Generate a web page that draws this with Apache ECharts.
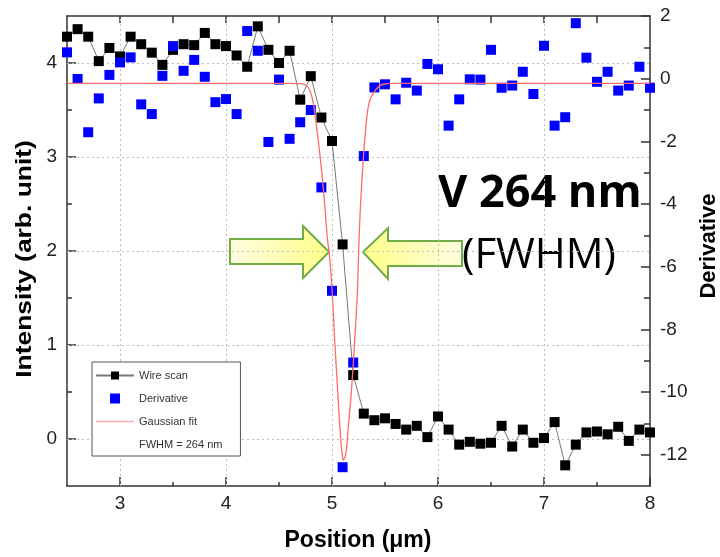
<!DOCTYPE html>
<html><head><meta charset="utf-8">
<script src="https://cdn.jsdelivr.net/npm/echarts@6/dist/echarts.min.js"></script>
<style>html,body{margin:0;padding:0;background:#fff}#c{width:720px;height:557px}</style>
</head><body><div id="c"></div>
<script>
// ---- data ----
const positions = [2.5,2.6,2.7,2.8,2.9,3.0,3.1,3.2,3.3,3.4,3.5,3.6,3.7,3.8,3.9,4.0,4.1,4.2,4.3,4.4,4.5,4.6,4.7,4.8,4.9,5.0,5.1,5.2,5.3,5.4,5.5,5.6,5.7,5.8,5.9,6.0,6.1,6.2,6.3,6.4,6.5,6.6,6.7,6.8,6.9,7.0,7.1,7.2,7.3,7.4,7.5,7.6,7.7,7.8,7.9,8.0];
const wireScan = [4.28,4.36,4.28,4.02,4.16,4.07,4.28,4.20,4.11,3.98,4.14,4.20,4.19,4.32,4.20,4.18,4.08,3.96,4.39,4.14,4.00,4.13,3.61,3.86,3.42,3.17,2.07,0.68,0.27,0.20,0.22,0.16,0.10,0.14,0.02,0.24,0.10,-0.06,-0.03,-0.05,-0.04,0.14,-0.08,0.10,-0.04,0.01,0.18,-0.28,-0.06,0.07,0.08,0.05,0.13,-0.02,0.10,0.07];
const derivative = [0.84,-0.01,-1.71,-0.63,0.12,0.52,0.68,-0.82,-1.13,0.09,1.04,0.25,0.60,0.06,-0.75,-0.65,-1.13,1.52,0.89,-2.02,-0.03,-1.92,-1.39,-1.00,-3.47,-6.77,-12.40,-9.06,-2.47,-0.28,-0.18,-0.66,-0.13,-0.38,0.47,0.30,-1.50,-0.66,-0.02,-0.03,0.92,-0.29,-0.22,0.22,-0.49,1.05,-1.50,-1.23,1.77,0.67,-0.10,0.22,-0.38,-0.22,0.38,-0.29];
const gaussX = [2.5,4.6,4.70,4.75,4.79,4.823,4.866,4.901,4.930,4.955,4.980,5.002,5.027,5.055,5.074,5.092,5.106,5.125,5.140,5.154,5.182,5.213,5.239,5.249,5.256,5.270,5.289,5.311,5.349,5.412,5.491,5.6,8.0];
const gaussY = [-0.15,-0.15,-0.16,-0.20,-0.36,-0.78,-1.85,-2.91,-3.97,-5.04,-5.79,-6.84,-8.44,-10.03,-11.11,-11.85,-12.17,-12.05,-11.70,-11.11,-10.03,-8.44,-6.84,-5.79,-5.04,-3.97,-2.91,-1.85,-0.78,-0.36,-0.17,-0.15,-0.15];
const xMajorTicks = [3,4,5,6,7,8];
const xMinorTicks = [3.5,4.5,5.5,6.5,7.5];
const xTopTicks = [3,3.5,4,4.5,5,5.5,6,6.5,7,7.5];
const leftMajorTicks = [0,1,2,3,4];
const leftMinorTicks = [0.5,1.5,2.5,3.5];
const rightMajorTicks = [-12,-10,-8,-6,-4,-2,0,2];
const rightMinorTicks = [-11,-9,-7,-5,-3,-1,1];
const gridLinesX = [3,4,5,6,7];
const gridLinesY = [0,1,2,3,4];

// ---- chart ----
const AX = '#333';
const FONT = '"Liberation Sans", Arial, sans-serif';
const chart = echarts.init(document.getElementById('c'), null, {renderer:'canvas', width:720, height:557});
const tickStyle = {color: AX, width: 1.5};
function valAxis(extra){
  const base = {type:'value', scale:false, splitLine:{show:false}, axisLabel:{show:false},
    axisLine:{show:false, onZero:false}};
  const o = Object.assign(base, extra);
  o.axisLine = Object.assign({show:false, onZero:false}, extra.axisLine || {});
  return o;
}
const option = {
  animation: false,
  backgroundColor: '#fff',
  grid: {left: 67, right: 70, top: 16, bottom: 71, containLabel: false, outerBoundsMode: 'none'},
  xAxis: [
    valAxis({position:'bottom', min:2.5, max:8,
      axisLine:{show:true, onZero:false, lineStyle:{color:AX, width:1.5}},
      axisTick:{show:true, inside:true, length:9, customValues:xMajorTicks, lineStyle:tickStyle},
      axisLabel:{show:true, customValues:xMajorTicks, fontSize:19, color:'#222', margin:8, fontFamily:FONT}}),
    valAxis({position:'bottom', min:2.5, max:8,
      axisTick:{show:true, inside:true, length:4, customValues:xMinorTicks, lineStyle:tickStyle}}),
    valAxis({position:'top', min:2.5, max:8,
      axisLine:{show:true, onZero:false, lineStyle:{color:AX, width:1.5}},
      axisTick:{show:true, inside:true, length:7, customValues:xTopTicks, lineStyle:tickStyle}})
  ],
  yAxis: [
    valAxis({position:'left', min:-0.5, max:4.5,
      axisLine:{show:true, onZero:false, lineStyle:{color:AX, width:1.5}},
      axisTick:{show:true, inside:true, length:9, customValues:leftMajorTicks, lineStyle:tickStyle},
      axisLabel:{show:true, customValues:leftMajorTicks, fontSize:19, color:'#222', margin:10, fontFamily:FONT}}),
    valAxis({position:'right', min:-13, max:2,
      axisLine:{show:true, onZero:false, lineStyle:{color:AX, width:1.5}},
      axisTick:{show:true, inside:true, length:9, customValues:rightMajorTicks, lineStyle:tickStyle},
      axisLabel:{show:true, customValues:rightMajorTicks, fontSize:19, color:'#222', margin:10, fontFamily:FONT}}),
    valAxis({position:'left', min:-0.5, max:4.5,
      axisTick:{show:true, inside:true, length:5, customValues:leftMinorTicks, lineStyle:tickStyle}}),
    valAxis({position:'right', min:-13, max:2,
      axisTick:{show:true, inside:true, length:6, customValues:rightMinorTicks, lineStyle:tickStyle}})
  ],
  legend: {
    orient:'vertical', left:92, top:362, padding:[8,18,6,3], itemGap:12, itemWidth:38, itemHeight:10,
    borderColor:'#555', borderWidth:1, backgroundColor:'#fff',
    textStyle:{fontSize:11, color:'#333', fontFamily:FONT},
    data:[
      {name:'Wire scan'},
      {name:'Derivative', icon:'path://M0,0H10V10H0Z', itemStyle:{color:'#0000ff', opacity:1}},
      {name:'Gaussian fit', icon:'path://M0,0H38V1.6H0Z', itemStyle:{color:'#ffaaaa'}},
      {name:'FWHM = 264 nm', itemStyle:{opacity:0}, lineStyle:{opacity:0}}
    ]
  },
  series: [
    {name:'Wire scan', type:'line', xAxisIndex:0, yAxisIndex:0, z:3,
     data: positions.map((x,i)=>[x, wireScan[i]]),
     symbol:'rect', symbolSize:10, showSymbol:true,
     itemStyle:{color:'#000'}, lineStyle:{color:'#777', width:1},
     markLine:{silent:true, z:1, symbol:'none', animation:false, label:{show:false},
       lineStyle:{color:'#bdbdbd', type:[2,3], width:1},
       emphasis:{disabled:true},
       data:[...gridLinesX.map(v=>({xAxis:v})), ...gridLinesY.map(v=>({yAxis:v}))]}},
    {name:'Derivative', type:'scatter', xAxisIndex:0, yAxisIndex:1, z:4,
     data: positions.map((x,i)=>[x, derivative[i]]),
     symbol:'rect', symbolSize:10, itemStyle:{color:'#0000ff', opacity:1}},
    {name:'Gaussian fit', type:'line', xAxisIndex:0, yAxisIndex:1, z:5,
     data: gaussX.map((x,i)=>[x, gaussY[i]]),
     symbol:'none', showSymbol:false, smooth:0.3, lineStyle:{color:'#ff6b6b', width:1.3}, itemStyle:{color:'#ff6b6b'}},
    {name:'FWHM = 264 nm', type:'line', xAxisIndex:0, yAxisIndex:0, data:[], symbol:'none', itemStyle:{color:'rgba(0,0,0,0)'}}
  ],
  graphic: [
    {type:'text', x:25, y:259, rotation:Math.PI/2, scaleX:1.2, style:{text:'Intensity (arb. unit)', font:'bold 22px '+FONT, fill:'#000', align:'center', verticalAlign:'middle'}},
    {type:'text', x:358, y:541, style:{text:'Position (\u03bcm)', font:'bold 23px '+FONT, fill:'#000', align:'center', verticalAlign:'middle'}},
    {type:'text', x:709, y:246, rotation:Math.PI/2, style:{text:'Derivative', font:'bold 22px '+FONT, fill:'#000', align:'center', verticalAlign:'middle'}},
    {type:'polygon', shape:{points:[[230,239],[303,239],[303,226],[329,252],[303,278],[303,264],[230,264]]},
     style:{fill:new echarts.graphic.LinearGradient(0,0,1,0,[{offset:0,color:'#fffce0'},{offset:1,color:'#ffff88'}]), stroke:'#70ad47', lineWidth:2}},
    {type:'polygon', shape:{points:[[462,241],[388,241],[388,228],[363,252],[388,279],[388,266],[462,266]]},
     style:{fill:new echarts.graphic.LinearGradient(0,0,1,0,[{offset:0,color:'#ffff88'},{offset:1,color:'#fffce0'}]), stroke:'#70ad47', lineWidth:2}},
    {type:'text', x:438, y:194, style:{text:'V 264 nm', font:'bold 45px "Open Sans", sans-serif', fill:'#000', align:'left', verticalAlign:'middle'}},
    {type:'text', x:462, y:256, style:{text:'(FWHM)', font:'42px "Open Sans", sans-serif', fill:'#000', align:'left', verticalAlign:'middle'}}
  ]
};
chart.setOption(option);
</script>
</body></html>
